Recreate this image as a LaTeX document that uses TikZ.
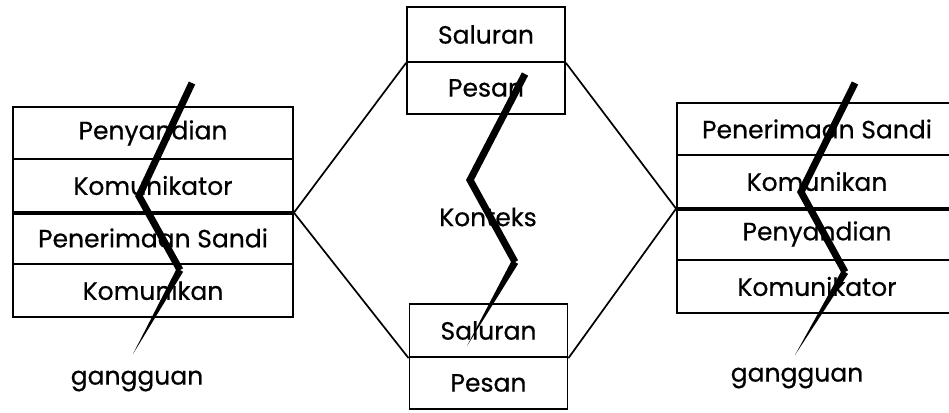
\documentclass[tikz,border=0pt]{standalone}
\usepackage{fontspec}
\setmainfont{Poppins}[FakeBold=0.5]
\usetikzlibrary{calc}
\tikzset{
  cellbox/.style={draw, line width=1.8pt, minimum width=280pt, minimum height=52.5pt, inner sep=0pt, font=\fontsize{25}{28}\selectfont},
  midbox/.style={draw, line width=1.8pt, minimum width=158pt, minimum height=53.5pt, inner sep=0pt, font=\fontsize{25}{28}\selectfont},
  lbl/.style={font=\fontsize{25}{28}\selectfont, inner sep=0pt},
  thickdiv/.style={line width=3.8pt},
  hexline/.style={line width=1.7pt},
  boltline/.style={line width=7pt, line join=miter, miter limit=4}
}
\newcommand\mybolt[4]{%
  \draw[boltline] (#1) -- (#2) -- (#3);
  \fill ($(#3)!3.6pt!90:(#4)$) -- (#4) -- ($(#3)!3.6pt!-90:(#4)$) -- cycle;}
\begin{document}
\begin{tikzpicture}[x=1pt,y=-1pt]
\useasboundingbox[fill=white] (0,0) rectangle (949,412);
% left stack
\node[cellbox] (l1) at (153,133) {Penyandian};
\node[cellbox] (l2) at (153,185.5) {Komunikator};
\node[cellbox] (l3) at (153,238) {Penerimaan Sandi};
\node[cellbox] (l4) at (153,290.5) {Komunikan};
\draw[thickdiv] (l2.south west) -- (l2.south east);
% right stack
\node[cellbox] (r1) at (817,129) {Penerimaan Sandi};
\node[cellbox] (r2) at (817,181.5) {Komunikan};
\node[cellbox] (r3) at (817,234) {Penyandian};
\node[cellbox] (r4) at (817,286.5) {Komunikator};
\draw[thickdiv] (r2.south west) -- (r2.south east);
% middle top
\node[midbox, minimum height=55pt] (t1) at (486,34.5) {Saluran};
\node[midbox, minimum height=52pt] (t2) at (486,88) {Pesan};
% middle bottom
\node[midbox] (b1) at (488.5,330.5) {Saluran};
\node[midbox, minimum height=52pt] (b2) at (488.5,383) {Pesan};
% hexagon connectors
\draw[hexline] (l2.south east) -- (t1.south west);
\draw[hexline] (l2.south east) -- (b1.south west);
\draw[hexline] (r2.south west) -- (t1.south east);
\draw[hexline] (r2.south west) -- (b1.south east);
\node[lbl] (ctx) at (488,217) {Konteks};
% labels
\node[lbl] (g1) at (137,381) {gangguan};
\node[lbl] (g2) at (797,378) {gangguan};
% bolts
\coordinate (la) at (192,83); \coordinate (lb) at (139,196);
\coordinate (lc) at (180,270); \coordinate (ld) at (133,354);
\mybolt{la}{lb}{lc}{ld}
\coordinate (ma) at (525,74); \coordinate (mb) at (470,180);
\coordinate (mc) at (515,262); \coordinate (md) at (467,346);
\mybolt{ma}{mb}{mc}{md}
\coordinate (ra) at (855,83); \coordinate (rb) at (801,192);
\coordinate (rc) at (845,272); \coordinate (rd) at (795,355);
\mybolt{ra}{rb}{rc}{rd}
\end{tikzpicture}
\end{document}
